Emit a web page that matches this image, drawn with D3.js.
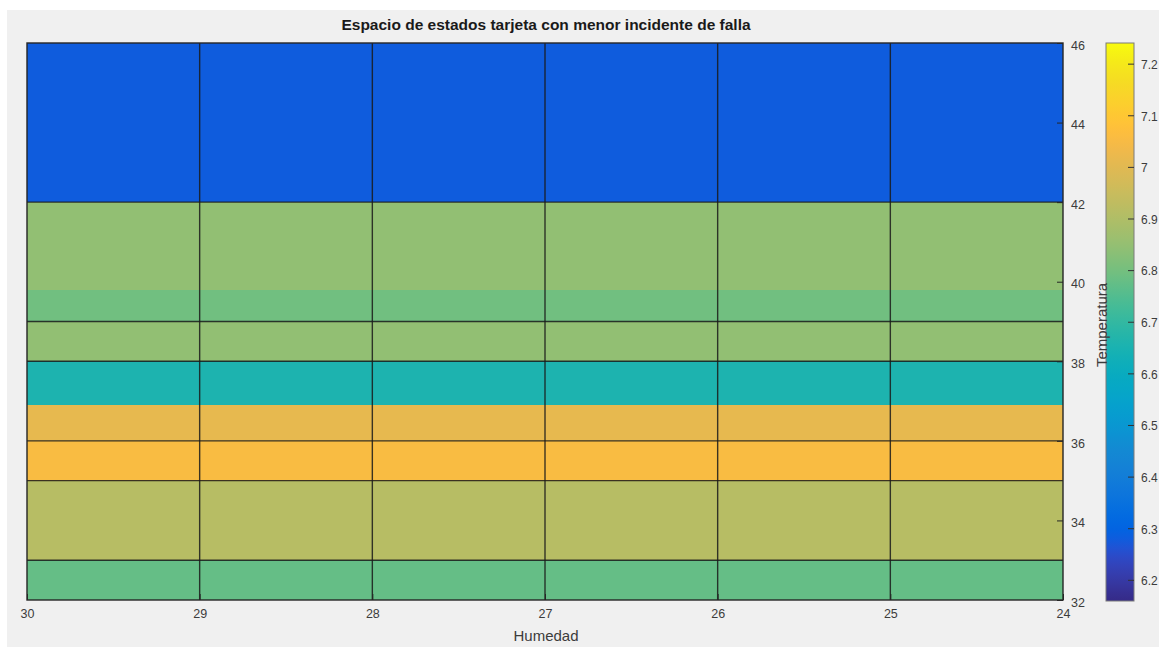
<!DOCTYPE html>
<html>
<head>
<meta charset="utf-8">
<script src="https://cdn.jsdelivr.net/npm/d3@7"></script>
<style>
  html, body { margin: 0; padding: 0; background: #ffffff; }
  svg { display: block; }
  text { font-family: "Liberation Sans", Arial, Helvetica, sans-serif; }
</style>
</head>
<body>
<svg id="chart" width="1159" height="647"></svg>
<script>
// ---------------- data ----------------
const humedadEdges = [30, 29, 28, 27, 26, 25, 24];
const humedadTicks = [30, 29, 28, 27, 26, 25, 24];
const temperaturaTicks = [32, 34, 36, 38, 40, 42, 44, 46];
// horizontal mesh lines (Temperatura)
const temperaturaLines = [33, 35, 36, 38, 39, 42];
// colour bands (bottom / top in Temperatura) and their values
const bandBottom = [32, 33, 35, 36, 36.9, 38, 39, 39.8, 42];
const bandTop    = [33, 35, 36, 36.9, 38, 39, 39.8, 42, 46];
const bandValue  = [6.776, 6.914, 7.055, 7.012, 6.656, 6.845, 6.794, 6.845, 6.279];
const colorbarTicks = [6.2, 6.3, 6.4, 6.5, 6.6, 6.7, 6.8, 6.9, 7.0, 7.1, 7.2];
const colorDomain = [6.159, 7.240];
const titleText = "Espacio de estados tarjeta con menor incidente de falla";
const xLabel = "Humedad";
const yLabel = "Temperatura";

// MATLAB parula colormap (64 entries)
const parula = [
[0.2081,0.1663,0.5292],[0.2116,0.1898,0.5777],[0.2123,0.2138,0.6270],[0.2081,0.2386,0.6771],
[0.1959,0.2645,0.7279],[0.1707,0.2919,0.7792],[0.1253,0.3242,0.8303],[0.0591,0.3598,0.8683],
[0.0117,0.3875,0.8820],[0.0060,0.4086,0.8828],[0.0165,0.4266,0.8786],[0.0329,0.4430,0.8720],
[0.0498,0.4586,0.8641],[0.0629,0.4737,0.8554],[0.0723,0.4887,0.8467],[0.0779,0.5040,0.8384],
[0.0793,0.5200,0.8312],[0.0749,0.5375,0.8263],[0.0641,0.5570,0.8240],[0.0488,0.5772,0.8228],
[0.0343,0.5966,0.8199],[0.0265,0.6137,0.8135],[0.0239,0.6287,0.8038],[0.0231,0.6418,0.7913],
[0.0228,0.6535,0.7768],[0.0267,0.6642,0.7607],[0.0384,0.6743,0.7436],[0.0590,0.6838,0.7254],
[0.0843,0.6928,0.7062],[0.1133,0.7015,0.6859],[0.1453,0.7098,0.6646],[0.1801,0.7177,0.6424],
[0.2178,0.7250,0.6193],[0.2586,0.7317,0.5954],[0.3022,0.7376,0.5712],[0.3482,0.7424,0.5473],
[0.3953,0.7459,0.5244],[0.4420,0.7481,0.5033],[0.4871,0.7491,0.4840],[0.5300,0.7491,0.4661],
[0.5709,0.7485,0.4494],[0.6099,0.7473,0.4337],[0.6473,0.7456,0.4188],[0.6834,0.7435,0.4044],
[0.7184,0.7411,0.3905],[0.7525,0.7384,0.3768],[0.7858,0.7356,0.3633],[0.8185,0.7327,0.3498],
[0.8507,0.7299,0.3360],[0.8824,0.7274,0.3217],[0.9139,0.7258,0.3063],[0.9450,0.7261,0.2886],
[0.9739,0.7314,0.2666],[0.9938,0.7455,0.2403],[0.9990,0.7653,0.2164],[0.9955,0.7861,0.1967],
[0.9880,0.8066,0.1794],[0.9789,0.8271,0.1633],[0.9697,0.8481,0.1475],[0.9626,0.8705,0.1309],
[0.9589,0.8949,0.1132],[0.9598,0.9218,0.0948],[0.9661,0.9514,0.0755],[0.9763,0.9831,0.0538]
].map(c => d3.rgb(c[0]*255, c[1]*255, c[2]*255).formatHex());

const parulaInterp = d3.piecewise(d3.interpolateRgb, parula);
const color = d3.scaleSequential(parulaInterp).domain(colorDomain).clamp(true);

// ---------------- layout ----------------
const svg = d3.select("#chart");
const W = 1159, H = 647;
const plot = { left: 27, right: 1063, top: 43, bottom: 600 };
const cbar = { left: 1106, right: 1134, top: 43, bottom: 601 };
const textColor = "#3c3c3c";

svg.append("rect").attr("x", 0).attr("y", 0).attr("width", W).attr("height", H).attr("fill", "#ffffff");
svg.append("rect").attr("x", 7).attr("y", 10).attr("width", W - 7).attr("height", H - 10).attr("fill", "#f0f0f0");

const x = d3.scaleLinear().domain([30, 24]).range([plot.left, plot.right]);
const y = d3.scaleLinear().domain([32, 46]).range([plot.bottom, plot.top]);

// cells
const cells = [];
for (let b = 0; b < bandValue.length; b++) {
  for (let c = 0; c < humedadEdges.length - 1; c++) {
    cells.push({ x0: humedadEdges[c], x1: humedadEdges[c + 1], y0: bandBottom[b], y1: bandTop[b], v: bandValue[b] });
  }
}
svg.append("g").selectAll("rect").data(cells).join("rect")
  .attr("x", d => Math.min(x(d.x0), x(d.x1)))
  .attr("y", d => y(d.y1))
  .attr("width", d => Math.abs(x(d.x1) - x(d.x0)))
  .attr("height", d => y(d.y0) - y(d.y1))
  .attr("fill", d => color(d.v))
  .attr("shape-rendering", "crispEdges");

// mesh lines
const mesh = svg.append("g").attr("stroke", "#1a1a1a").attr("stroke-opacity", 0.85).attr("stroke-width", 1.4);
temperaturaLines.forEach(t => {
  mesh.append("line").attr("x1", plot.left).attr("x2", plot.right).attr("y1", y(t)).attr("y2", y(t));
});
humedadEdges.slice(1, -1).forEach(h => {
  mesh.append("line").attr("x1", x(h)).attr("x2", x(h)).attr("y1", plot.top).attr("y2", plot.bottom);
});
// box
svg.append("rect").attr("x", plot.left).attr("y", plot.top)
  .attr("width", plot.right - plot.left).attr("height", plot.bottom - plot.top)
  .attr("fill", "none").attr("stroke", "#262626").attr("stroke-width", 1.4);

// x axis (bottom)
const xAxis = d3.axisBottom(x).tickValues(humedadTicks).tickSize(-6).tickPadding(12).tickFormat(d3.format("d"));
const gx = svg.append("g").attr("transform", `translate(0,${plot.bottom})`).call(xAxis);
gx.select(".domain").remove();
gx.selectAll(".tick line").attr("stroke", "#262626");
gx.selectAll(".tick text").attr("fill", textColor).attr("font-size", 12.5).attr("dy", "0.5em");

// y axis (right)
const yAxis = d3.axisRight(y).tickValues(temperaturaTicks).tickSize(-6).tickPadding(8).tickFormat(d3.format("d"));
const gy = svg.append("g").attr("transform", `translate(${plot.right},0)`).call(yAxis);
gy.select(".domain").remove();
gy.selectAll(".tick line").attr("stroke", "#262626");
gy.selectAll(".tick text").attr("fill", textColor).attr("font-size", 12.5).attr("dy", "0.5em");

// title & labels
svg.append("text").attr("x", 546).attr("y", 30)
  .attr("text-anchor", "middle").attr("font-weight", "bold").attr("font-size", 15.5)
  .attr("fill", "#1a1a1a").text(titleText);
svg.append("text").attr("x", 546).attr("y", 641)
  .attr("text-anchor", "middle").attr("font-size", 15).attr("fill", textColor).text(xLabel);

// colorbar
const cy = d3.scaleLinear().domain(colorDomain).range([cbar.bottom, cbar.top]);
const defs = svg.append("defs");
const grad = defs.append("linearGradient").attr("id", "cbgrad")
  .attr("x1", 0).attr("y1", 1).attr("x2", 0).attr("y2", 0);
parula.forEach((c, i) => {
  grad.append("stop").attr("offset", i / (parula.length - 1)).attr("stop-color", c);
});
svg.append("rect").attr("x", cbar.left).attr("y", cbar.top)
  .attr("width", cbar.right - cbar.left).attr("height", cbar.bottom - cbar.top)
  .attr("fill", "url(#cbgrad)").attr("stroke", "#7a7a7a").attr("stroke-width", 1);
const cAxis = d3.axisRight(cy).tickValues(colorbarTicks).tickSize(-6).tickPadding(7)
  .tickFormat(d => d3.format("")(Math.round(d * 10) / 10));
const gc = svg.append("g").attr("transform", `translate(${cbar.right},0)`).call(cAxis);
gc.select(".domain").remove();
gc.selectAll(".tick line").attr("stroke", "#333");
gc.selectAll(".tick text").attr("fill", textColor).attr("font-size", 12).attr("dy", "0.4em");

// y label (drawn over colorbar edge as in reference)
svg.append("text").attr("transform", `translate(1107,325) rotate(-90)`)
  .attr("text-anchor", "middle").attr("font-size", 15).attr("fill", textColor).text(yLabel);
</script>
</body>
</html>
